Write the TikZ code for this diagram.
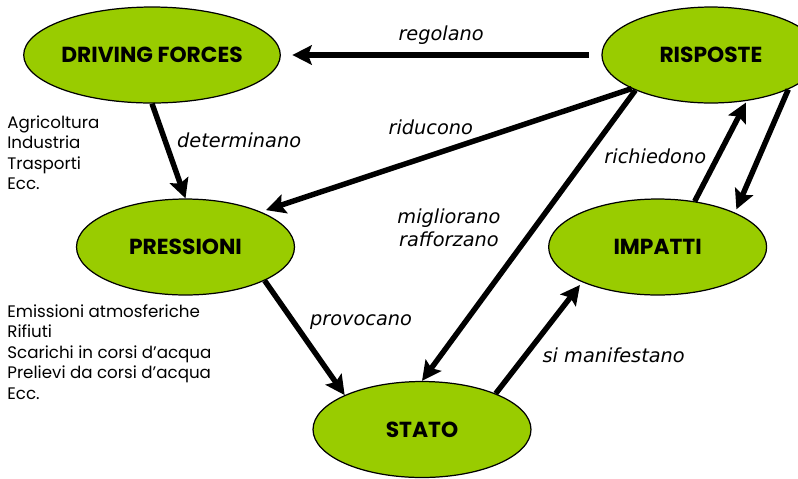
\documentclass[tikz,border=0pt]{standalone}
\usepackage{fontspec}
\setmainfont{Poppins}
\newfontfamily\verbfont{DejaVu Sans}
\usepackage{tikz}
\usetikzlibrary{arrows.meta,shapes.geometric,positioning}
\definecolor{leaf}{RGB}{153,204,0}

\begin{document}
\begin{tikzpicture}[x=0.02cm,y=-0.02cm,>={Stealth[length=11pt,width=11pt,inset=2pt]},
		phase/.style={ellipse,draw,line width=0.7pt,fill=leaf,minimum width=4.36cm,minimum height=1.92cm,inner sep=0pt,font=\bfseries\fontsize{12.4}{14}\selectfont},
		link/.style={->,line width=3.1pt},
		verb/.style={font=\verbfont\itshape\fontsize{11}{13}\selectfont,align=center},
		note/.style={font=\fontsize{9.5}{11.7}\selectfont,align=left,inner sep=0pt,anchor=north west}]
		\useasboundingbox (0,0) rectangle (798,478);
		\node[phase] (drv) at (152,55) {DRIVING FORCES};
		\node[phase] [right=6.41cm of drv] (risp) {RISPOSTE};
		\node[phase] (pres) at (185.5,247) {PRESSIONI};
		\node[phase] [right=5.06cm of pres] (imp) {IMPATTI};
		\node[phase] (stato) at (422,429.5) {STATO};
		\node[note] (drv_list) at (7,115) {Agricoltura\\Industria\\Trasporti\\Ecc.};
		\node[note] (pres_list) at (7,304) {Emissioni atmosferiche\\Rifiuti\\Scarichi in corsi d'acqua\\Prelievi da corsi d'acqua\\Ecc.};
		\path[link]
			(risp.west) edge[shorten <=7pt,shorten >=6.5pt] node[verb,above=1pt] {regolano} (drv.east)
			(drv.south) edge node[verb,pos=0.39,right=2pt] {determinano} (pres.north)
			(risp.203) edge[shorten >=3pt] node[verb,pos=0.542,above=7pt] {riducono} (pres.25)
			(risp.205) edge node[verb,pos=0.474,left=14.4pt] {migliorano\\rafforzano} (stato.north)
			(pres.-23) edge node[verb,pos=0.362,right=4.5pt] {provocano} (stato.156)
			(stato.26) edge[shorten >=2pt] node[verb,pos=0.342,right=5pt] {si manifestano} (imp.205)
			(imp.51) edge[shorten >=1pt] node[verb,pos=0.451,left=2pt] {richiedono} (risp.-52)
			(risp.-24) edge[shorten >=2pt] (imp.24);
	\end{tikzpicture}
\end{document}
